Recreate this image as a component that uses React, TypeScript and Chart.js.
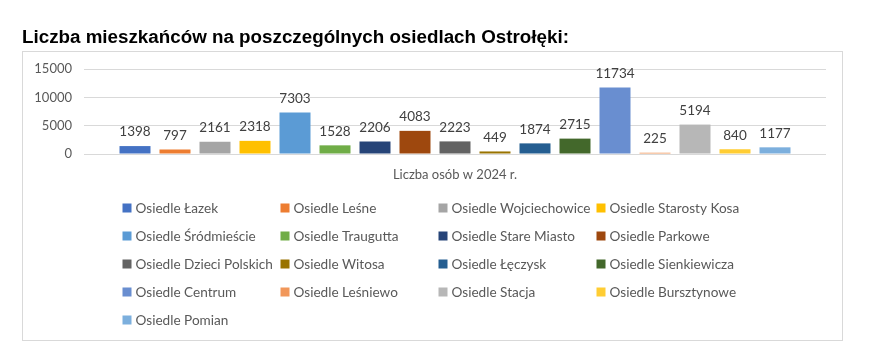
import React, { useEffect, useRef } from "react";
import { Chart, registerables } from "chart.js";

Chart.register(...registerables);

const titleText = "Liczba mieszkańców na poszczególnych osiedlach Ostrołęki:";
const categories = ["Liczba osób w 2024 r."];
const estateNames = [
  "Osiedle Łazek",
  "Osiedle Leśne",
  "Osiedle Wojciechowice",
  "Osiedle Starosty Kosa",
  "Osiedle Śródmieście",
  "Osiedle Traugutta",
  "Osiedle Stare Miasto",
  "Osiedle Parkowe",
  "Osiedle Dzieci Polskich",
  "Osiedle Witosa",
  "Osiedle Łęczysk",
  "Osiedle Sienkiewicza",
  "Osiedle Centrum",
  "Osiedle Leśniewo",
  "Osiedle Stacja",
  "Osiedle Bursztynowe",
  "Osiedle Pomian",
];
const residents = [1398, 797, 2161, 2318, 7303, 1528, 2206, 4083, 2223, 449, 1874, 2715, 11734, 225, 5194, 840, 1177];
const colors = [
  "#4472C4",
  "#ED7D31",
  "#A5A5A5",
  "#FFC000",
  "#5B9BD5",
  "#70AD47",
  "#264478",
  "#9E480E",
  "#636363",
  "#997300",
  "#255E91",
  "#43682B",
  "#698ED0",
  "#F1975A",
  "#B7B7B7",
  "#FFCD33",
  "#7CAFDD",
];
const yTicks = [0, 5000, 10000, 15000];

const FONT = "Lato, 'Open Sans', sans-serif";

const decorPlugin = {
  id: "decor",
  beforeDraw(chart: any) {
    const ctx = chart.ctx;
    ctx.save();
    ctx.fillStyle = "#ffffff";
    ctx.fillRect(0, 0, chart.width, chart.height);
    ctx.strokeStyle = "#D9D9D9";
    ctx.lineWidth = 1;
    ctx.strokeRect(22.5, 51.5, 820, 289);
    ctx.fillStyle = "#000000";
    ctx.font = "bold 18.8px 'Liberation Sans', Arial, sans-serif";
    ctx.textAlign = "left";
    ctx.textBaseline = "alphabetic";
    ctx.fillText(titleText, 22, 43);
    ctx.restore();
  },
  afterDatasetsDraw(chart: any) {
    const ctx = chart.ctx;
    ctx.save();
    ctx.fillStyle = "#404040";
    ctx.font = `13.5px ${FONT}`;
    ctx.textAlign = "center";
    ctx.textBaseline = "middle";
    chart.data.datasets.forEach((ds: any, i: number) => {
      const meta = chart.getDatasetMeta(i);
      meta.data.forEach((bar: any, j: number) => {
        ctx.fillText(String(ds.data[j]), bar.x, bar.y - 14);
      });
    });
    ctx.restore();
  },
  afterDraw(chart: any) {
    const ctx = chart.ctx;
    const area = chart.chartArea;
    ctx.save();
    ctx.fillStyle = "#595959";
    ctx.font = `13px ${FONT}`;
    ctx.textAlign = "center";
    ctx.textBaseline = "middle";
    ctx.fillText(categories[0], (area.left + area.right) / 2, 175);
    ctx.textAlign = "left";
    ctx.font = `13.6px ${FONT}`;
    chart.data.datasets.forEach((ds: any, i: number) => {
      const col = i % 4;
      const row = Math.floor(i / 4);
      const x = 122.5 + col * 158;
      const y = 208 + row * 28;
      ctx.fillStyle = ds.backgroundColor;
      ctx.fillRect(x, y - 4.5, 9, 9);
      ctx.fillStyle = "#595959";
      ctx.fillText(ds.label, x + 13, y + 0.5);
    });
    ctx.restore();
  },
};

export default function App() {
  const ref = useRef<HTMLCanvasElement | null>(null);
  useEffect(() => {
    if (!ref.current) return;
    const chart = new Chart(ref.current, {
      type: "bar",
      data: {
        labels: categories,
        datasets: estateNames.map((name, i) => ({
          label: name,
          data: [residents[i]],
          backgroundColor: colors[i],
          borderWidth: 0,
          categoryPercentage: 680 / 742,
          barPercentage: 31 / 40,
        })),
      },
      options: {
        animation: false,
        responsive: false,
        devicePixelRatio: 1,
        layout: { padding: { top: 69, left: 0, right: 62, bottom: 204 } },
        plugins: {
          legend: { display: false },
          title: { display: false },
          tooltip: { enabled: false },
        },
        scales: {
          x: { display: false },
          y: {
            min: 0,
            max: 15000,
            afterFit: (s: any) => {
              s.width = 84;
            },
            afterBuildTicks: (s: any) => {
              s.ticks = yTicks.map((v) => ({ value: v }));
            },
            ticks: {
              color: "#595959",
              font: { family: FONT, size: 13 },
              padding: 12,
              callback: (v: any) => String(v),
            },
            grid: { color: "#D9D9D9", drawTicks: false },
            border: { display: false },
          },
        },
      },
      plugins: [decorPlugin],
    });
    return () => chart.destroy();
  }, []);
  return (
    <div style={{ position: "absolute", left: 0, top: 0, width: 888, height: 358 }}>
      <canvas ref={ref} width={888} height={358} />
    </div>
  );
}
